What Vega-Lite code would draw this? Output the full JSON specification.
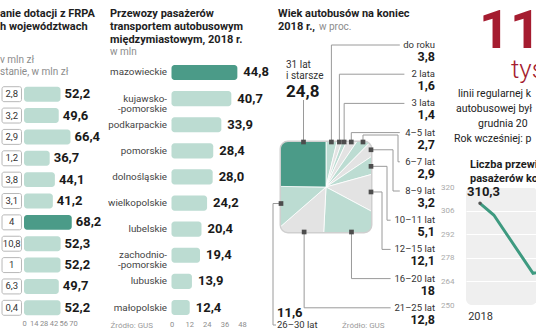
{
  "$schema": "https://vega.github.io/schema/vega-lite/v6.json",
  "padding": 0,
  "background": "white",
  "spacing": 0,
  "config": {
    "view": {"stroke": null},
    "font": "Roboto",
    "locale": {"number": {"decimal": ",", "thousands": "\u00a0", "grouping": [3], "currency": ["", " zł"]}},
    "title": {"anchor": "start", "frame": "group", "font": "Roboto", "fontSize": 11, "fontWeight": "bold", "color": "#1e1e1e", "lineHeight": 13.3, "subtitleFont": "Roboto", "subtitleFontSize": 10, "subtitleColor": "#8c8c8c", "subtitleFontWeight": "normal", "subtitleLineHeight": 12},
    "axis": {"domain": false, "ticks": false, "grid": false, "labelFont": "Roboto", "labelColor": "#8c8c8c", "labelFontSize": 7.5}
  },
  "hconcat": [
    {
      "spacing": 0,
      "bounds": "flush",
      "vconcat": [
        {"width": 108, "height": 85, "data": {"values": [{}]}, "mark": {"type": "point", "opacity": 0}},
        {
          "width": 108,
          "height": 232,
          "title": {"text": ["anie dotacji z FRPA", "h województwach"], "subtitle": ["v mln zł", "stanie, w mln zł"], "offset": 8, "subtitlePadding": 23},
          "data": {"values": [
            {"nr": 1, "mniejsza": 2.8, "kwota": 52.2},
            {"nr": 2, "mniejsza": 3.2, "kwota": 49.6},
            {"nr": 3, "mniejsza": 2.9, "kwota": 66.4},
            {"nr": 4, "mniejsza": 1.2, "kwota": 36.7},
            {"nr": 5, "mniejsza": 3.8, "kwota": 44.1},
            {"nr": 6, "mniejsza": 3.1, "kwota": 41.2},
            {"nr": 7, "mniejsza": 4, "kwota": 68.2},
            {"nr": 8, "mniejsza": 10.8, "kwota": 52.3},
            {"nr": 9, "mniejsza": 1, "kwota": 52.2},
            {"nr": 10, "mniejsza": 6.3, "kwota": 49.7},
            {"nr": 11, "mniejsza": 0.4, "kwota": 52.2}
          ]},
          "encoding": {
            "y": {"field": "nr", "type": "ordinal", "axis": null, "scale": {"paddingInner": 0.3, "paddingOuter": 0.08}}
          },
          "layer": [
            {
              "mark": {"type": "bar", "fill": "white", "stroke": "#b8b8b8", "strokeWidth": 1, "cornerRadius": 2},
              "encoding": {
                "x": {"datum": -31.4, "type": "quantitative", "scale": {"domain": [-34.29, 119.99], "nice": false, "zero": false}, "axis": {"values": [0, 14, 28, 42, 56, 70], "labelPadding": 2, "title": null}},
                "x2": {"datum": -3.6}
              }
            },
            {
              "mark": {"type": "text", "fontSize": 9.5, "color": "#333333"},
              "encoding": {
                "x": {"datum": -17.5, "type": "quantitative", "scale": {"domain": [-34.29, 119.99], "nice": false, "zero": false}, "axis": {"values": [0, 14, 28, 42, 56, 70], "labelPadding": 2, "title": null}},
                "text": {"field": "mniejsza", "type": "quantitative", "format": ".1~f"}
              }
            },
            {
              "mark": {"type": "bar", "cornerRadius": 3},
              "encoding": {
                "x": {"field": "kwota", "type": "quantitative", "scale": {"domain": [-34.29, 119.99], "nice": false, "zero": false}, "axis": {"values": [0, 14, 28, 42, 56, 70], "labelPadding": 2, "title": null}},
                "x2": {"datum": 0},
                "color": {"condition": {"test": "datum.nr == 7", "value": "#4b9b88"}, "value": "#bcdcd2"}
              }
            },
            {
              "mark": {"type": "text", "align": "left", "dx": 4, "fontSize": 13, "fontWeight": "bold", "font": "Liberation Sans Narrow, Roboto", "color": "#1a1a1a"},
              "encoding": {
                "x": {"field": "kwota", "type": "quantitative", "scale": {"domain": [-34.29, 119.99], "nice": false, "zero": false}, "axis": {"values": [0, 14, 28, 42, 56, 70], "labelPadding": 2, "title": null}},
                "text": {"field": "kwota", "type": "quantitative", "format": ".1f"}
              }
            }
          ]
        }
      ]
    },
    {
      "spacing": 0,
      "bounds": "flush",
      "vconcat": [
        {"width": 159.5, "height": 61, "data": {"values": [{}]}, "mark": {"type": "point", "opacity": 0}},
        {
          "width": 159.5,
          "height": 258,
          "title": {"text": ["Przewozy pasażerów", "transportem autobusowym", "międzymiastowym, 2018 r."], "subtitle": "w mln", "offset": 4.5, "subtitlePadding": 1, "dx": 2},
          "data": {"values": [
            {"woj": "mazowieckie", "mln": 44.8},
            {"woj": "kujawsko-pomorskie", "mln": 40.7},
            {"woj": "podkarpackie", "mln": 33.9},
            {"woj": "pomorskie", "mln": 28.4},
            {"woj": "dolnośląskie", "mln": 28.0},
            {"woj": "wielkopolskie", "mln": 24.2},
            {"woj": "lubelskie", "mln": 20.4},
            {"woj": "zachodniopomorskie", "mln": 19.4},
            {"woj": "lubuskie", "mln": 13.9},
            {"woj": "małopolskie", "mln": 12.4}
          ]},
          "transform": [
            {"calculate": "replace(replace(datum.woj, 'kujawsko-', 'kujawsko-\\n-'), 'zachodniopomorskie', 'zachodnio-\\n-pomorskie')", "as": "etykieta"}
          ],
          "encoding": {
            "y": {"field": "woj", "type": "nominal", "sort": null, "axis": null, "scale": {"paddingInner": 0.42, "paddingOuter": 0.15}}
          },
          "layer": [
            {
              "mark": {"type": "bar", "cornerRadius": 3},
              "encoding": {
                "x": {"field": "mln", "type": "quantitative", "scale": {"domain": [-43.2, 65.31], "nice": false, "zero": false}, "axis": {"values": [0, 12, 24, 36, 48], "labelPadding": 1, "title": "Źródło: GUS", "titleX": 2, "titleY": 6, "titleAlign": "left", "titleAnchor": "start", "titleBaseline": "middle", "titleFontSize": 8, "titleFontWeight": "normal", "titleColor": "#9a9a9a", "titleFont": "Roboto", "titleAngle": 0}},
                "x2": {"datum": 0},
                "color": {"condition": {"test": "datum.woj == 'mazowieckie'", "value": "#4b9b88"}, "value": "#bcdcd2"}
              }
            },
            {
              "mark": {"type": "text", "align": "right", "baseline": "middle", "fontSize": 9.8, "color": "#444444", "lineBreak": "\n", "lineHeight": 10},
              "encoding": {
                "x": {"datum": -3.06, "type": "quantitative", "scale": {"domain": [-43.2, 65.31], "nice": false, "zero": false}, "axis": {"values": [0, 12, 24, 36, 48], "labelPadding": 1, "title": "Źródło: GUS", "titleX": 2, "titleY": 6, "titleAlign": "left", "titleAnchor": "start", "titleBaseline": "middle", "titleFontSize": 8, "titleFontWeight": "normal", "titleColor": "#9a9a9a", "titleFont": "Roboto", "titleAngle": 0}},
                "text": {"field": "etykieta"}
              }
            },
            {
              "mark": {"type": "text", "align": "left", "dx": 6, "fontSize": 13, "fontWeight": "bold", "font": "Liberation Sans Narrow, Roboto", "color": "#1a1a1a"},
              "encoding": {
                "x": {"field": "mln", "type": "quantitative", "scale": {"domain": [-43.2, 65.31], "nice": false, "zero": false}, "axis": {"values": [0, 12, 24, 36, 48], "labelPadding": 1, "title": "Źródło: GUS", "titleX": 2, "titleY": 6, "titleAlign": "left", "titleAnchor": "start", "titleBaseline": "middle", "titleFontSize": 8, "titleFontWeight": "normal", "titleColor": "#9a9a9a", "titleFont": "Roboto", "titleAngle": 0}},
                "text": {"field": "mln", "type": "quantitative", "format": ".1f"}
              }
            }
          ]
        }
      ]
    },
    {
      "spacing": 0,
      "bounds": "flush",
      "vconcat": [
        {
          "width": 158.5,
          "height": 142,
          "title": {"text": ["Wiek autobusów na koniec", "2018 r.,"], "offset": -32, "dx": -3},
          "data": {"values": [{}]},
          "mark": {"type": "point", "opacity": 0}
        },
        {
          "width": 90,
          "height": 90,
          "view": {"stroke": "#cfcfcf", "strokeWidth": 3, "cornerRadius": 7},
          "title": {"text": "w proc.", "fontSize": 10, "fontWeight": "normal", "color": "#8c8c8c", "offset": 8, "dx": 38},
          "data": {"values": [
            {"k": "do roku", "v": 3.8, "o": 1},
            {"k": "2 lata", "v": 1.6, "o": 2},
            {"k": "3 lata", "v": 1.4, "o": 3},
            {"k": "4–5 lat", "v": 2.7, "o": 4},
            {"k": "6–7 lat", "v": 2.9, "o": 5},
            {"k": "8–9 lat", "v": 3.2, "o": 6},
            {"k": "10–11 lat", "v": 5.1, "o": 7},
            {"k": "12–15 lat", "v": 12.1, "o": 8},
            {"k": "16–20 lat", "v": 18, "o": 9},
            {"k": "21–25 lat", "v": 12.8, "o": 10},
            {"k": "26–30 lat", "v": 11.6, "o": 11},
            {"k": "31 lat i starsze", "v": 24.8, "o": 12}
          ]},
          "transform": [
            {"window": [{"op": "sum", "field": "v", "as": "cum"}], "sort": [{"field": "o"}]},
            {"calculate": "2*PI*(datum.cum - datum.v/2)/100", "as": "a"},
            {"calculate": "45/max(abs(sin(datum.a)), abs(cos(datum.a)))", "as": "t"},
            {"calculate": "datum.o == 12 ? 22.5 : 45 + datum.t*sin(datum.a)", "as": "mx"},
            {"calculate": "datum.o == 12 ? 0 : 45 - datum.t*cos(datum.a)", "as": "my"},
            {"calculate": "-97 + (datum.o - 1)*29.2", "as": "ny"},
            {"calculate": "151 - length(datum.k)*4.6", "as": "le"},
            {"calculate": "datum.o == 5 ? 117 : datum.o == 6 ? 112 : datum.o == 7 ? 106 : 101", "as": "xe"}
          ],
          "layer": [
            {
              "mark": {"type": "arc", "outerRadius": 70, "clip": true, "stroke": "white", "strokeWidth": 0.8},
              "encoding": {
                "theta": {"field": "v", "type": "quantitative", "stack": true},
                "order": {"field": "o", "type": "quantitative"},
                "color": {"field": "k", "type": "nominal", "legend": null, "scale": {
                  "domain": ["do roku", "2 lata", "3 lata", "4–5 lat", "6–7 lat", "8–9 lat", "10–11 lat", "12–15 lat", "16–20 lat", "21–25 lat", "26–30 lat", "31 lat i starsze"],
                  "range": ["#bcdcd2", "#e3e3e3", "#bcdcd2", "#e3e3e3", "#bcdcd2", "#e3e3e3", "#bcdcd2", "#e3e3e3", "#bcdcd2", "#e3e3e3", "#bcdcd2", "#4b9b88"]}}
              }
            },
            {
              "transform": [
                {"calculate": "datum.o <= 4 || datum.o == 9 || datum.o == 10 ? [{x: datum.mx, y: datum.my, i: 0}, {x: datum.mx, y: datum.ny, i: 1}, {x: datum.le, y: datum.ny, i: 2}] : datum.o == 5 ? [{x: datum.mx, y: datum.my, i: 0}, {x: datum.mx, y: -7, i: 1}, {x: datum.xe, y: -7, i: 2}, {x: datum.xe, y: datum.ny, i: 3}, {x: datum.le, y: datum.ny, i: 4}] : datum.o <= 8 ? [{x: datum.mx, y: datum.my, i: 0}, {x: datum.xe, y: datum.my, i: 1}, {x: datum.xe, y: datum.ny, i: 2}, {x: datum.le, y: datum.ny, i: 3}] : datum.o == 11 ? [{x: datum.mx, y: datum.my, i: 0}, {x: -8, y: datum.my, i: 1}, {x: -8, y: 183, i: 2}, {x: -5, y: 183, i: 3}] : [{x: datum.mx, y: datum.my, i: 0}, {x: datum.mx, y: -42, i: 1}]", "as": "pts"},
                {"flatten": ["pts"], "as": ["p"]},
                {"calculate": "datum.p.x", "as": "px"},
                {"calculate": "datum.p.y", "as": "py"},
                {"calculate": "datum.p.i", "as": "pi"}
              ],
              "mark": {"type": "line", "stroke": "#9a9a9a", "strokeWidth": 1},
              "encoding": {
                "x": {"field": "px", "type": "quantitative", "scale": {"domain": [0, 90], "nice": false, "zero": false}, "axis": null},
                "y": {"field": "py", "type": "quantitative", "scale": {"domain": [0, 90], "nice": false, "zero": false, "reverse": true}, "axis": null},
                "detail": {"field": "k"},
                "order": {"field": "pi", "type": "quantitative"}
              }
            },
            {
              "mark": {"type": "square", "size": 22, "color": "#4d4d4d", "opacity": 1, "filled": true},
              "encoding": {
                "x": {"field": "mx", "type": "quantitative", "scale": {"domain": [0, 90], "nice": false, "zero": false}, "axis": null},
                "y": {"field": "my", "type": "quantitative", "scale": {"domain": [0, 90], "nice": false, "zero": false, "reverse": true}, "axis": null}
              }
            },
            {
              "transform": [{"filter": "datum.o <= 10"}],
              "mark": {"type": "text", "align": "right", "baseline": "middle", "fontSize": 9.5, "color": "#333333"},
              "encoding": {
                "x": {"datum": 154, "type": "quantitative", "scale": {"domain": [0, 90], "nice": false, "zero": false}, "axis": null},
                "y": {"field": "ny", "type": "quantitative", "scale": {"domain": [0, 90], "nice": false, "zero": false, "reverse": true}, "axis": null},
                "text": {"field": "k"}
              }
            },
            {
              "transform": [{"filter": "datum.o <= 10"}],
              "mark": {"type": "text", "align": "right", "baseline": "middle", "dy": 12, "fontSize": 12.5, "fontWeight": "bold", "font": "Liberation Sans Narrow, Roboto", "color": "#1a1a1a"},
              "encoding": {
                "x": {"datum": 154, "type": "quantitative", "scale": {"domain": [0, 90], "nice": false, "zero": false}, "axis": null},
                "y": {"field": "ny", "type": "quantitative", "scale": {"domain": [0, 90], "nice": false, "zero": false, "reverse": true}, "axis": null},
                "text": {"field": "v", "type": "quantitative", "format": ".1~f"}
              }
            },
            {
              "transform": [{"filter": "datum.o == 11"}],
              "mark": {"type": "text", "align": "left", "baseline": "middle", "fontSize": 9.5, "color": "#333333"},
              "encoding": {
                "x": {"datum": -4, "type": "quantitative", "scale": {"domain": [0, 90], "nice": false, "zero": false}, "axis": null},
                "y": {"datum": 183, "type": "quantitative", "scale": {"domain": [0, 90], "nice": false, "zero": false, "reverse": true}, "axis": null},
                "text": {"field": "k"}
              }
            },
            {
              "transform": [{"filter": "datum.o == 11"}],
              "mark": {"type": "text", "align": "left", "baseline": "middle", "fontSize": 13, "fontWeight": "bold", "font": "Liberation Sans Narrow, Roboto", "color": "#1a1a1a"},
              "encoding": {
                "x": {"datum": -4, "type": "quantitative", "scale": {"domain": [0, 90], "nice": false, "zero": false}, "axis": null},
                "y": {"datum": 171, "type": "quantitative", "scale": {"domain": [0, 90], "nice": false, "zero": false, "reverse": true}, "axis": null},
                "text": {"field": "v", "type": "quantitative", "format": ".1~f"}
              }
            },
            {
              "transform": [{"filter": "datum.o == 12"}, {"calculate": "replace(datum.k, 'lat ', 'lat\\n')", "as": "k2"}],
              "mark": {"type": "text", "align": "left", "baseline": "middle", "fontSize": 10, "color": "#333333", "lineBreak": "\n", "lineHeight": 11.5},
              "encoding": {
                "x": {"datum": 5, "type": "quantitative", "scale": {"domain": [0, 90], "nice": false, "zero": false}, "axis": null},
                "y": {"datum": -77.5, "type": "quantitative", "scale": {"domain": [0, 90], "nice": false, "zero": false, "reverse": true}, "axis": null},
                "text": {"field": "k2"}
              }
            },
            {
              "transform": [{"filter": "datum.o == 12"}],
              "mark": {"type": "text", "align": "left", "baseline": "middle", "fontSize": 17, "fontWeight": "bold", "font": "Liberation Sans Narrow, Roboto", "color": "#1a1a1a"},
              "encoding": {
                "x": {"datum": 5, "type": "quantitative", "scale": {"domain": [0, 90], "nice": false, "zero": false}, "axis": null},
                "y": {"datum": -50, "type": "quantitative", "scale": {"domain": [0, 90], "nice": false, "zero": false, "reverse": true}, "axis": null},
                "text": {"field": "v", "type": "quantitative", "format": ".1~f"}
              }
            },
            {
              "transform": [{"filter": "datum.o == 1"}],
              "mark": {"type": "text", "align": "left", "baseline": "middle", "fontSize": 8, "color": "#9a9a9a", "text": "Źródło: GUS"},
              "encoding": {
                "x": {"datum": 61, "type": "quantitative", "scale": {"domain": [0, 90], "nice": false, "zero": false}, "axis": null},
                "y": {"datum": 184, "type": "quantitative", "scale": {"domain": [0, 90], "nice": false, "zero": false, "reverse": true}, "axis": null}
              }
            }
          ]
        }
      ]
    },
    {
      "spacing": 0,
      "bounds": "flush",
      "vconcat": [
        {
          "width": 71,
          "height": 58,
          "title": {"text": "11", "fontSize": 54, "lineHeight": 54, "color": "#a51c30", "offset": -59, "dx": 13},
          "data": {"values": [{}]},
          "mark": {"type": "point", "opacity": 0}
        },
        {
          "width": 71,
          "height": 27,
          "title": {"text": "tys.", "fontSize": 26, "fontWeight": 300, "color": "#a51c30", "offset": -25.2, "dx": 45},
          "data": {"values": [{}]},
          "mark": {"type": "point", "opacity": 0}
        },
        {
          "width": 71,
          "height": 15,
          "title": {"text": "linii regularnej k", "fontSize": 10.5, "fontWeight": "normal", "color": "#222222", "offset": -14, "dx": -8},
          "data": {"values": [{}]},
          "mark": {"type": "point", "opacity": 0}
        },
        {
          "width": 71,
          "height": 15,
          "title": {"text": "autobusowej był", "fontSize": 10.5, "fontWeight": "normal", "color": "#222222", "offset": -14, "dx": -10},
          "data": {"values": [{}]},
          "mark": {"type": "point", "opacity": 0}
        },
        {
          "width": 71,
          "height": 15,
          "title": {"text": "grudnia 20", "fontSize": 10.5, "fontWeight": "normal", "color": "#222222", "offset": -14, "dx": 12},
          "data": {"values": [{}]},
          "mark": {"type": "point", "opacity": 0}
        },
        {
          "width": 71,
          "height": 15,
          "title": {"text": "Rok wcześniej: p", "fontSize": 10.5, "fontWeight": "normal", "color": "#222222", "offset": -14, "dx": -12},
          "data": {"values": [{}]},
          "mark": {"type": "point", "opacity": 0}
        },
        {"width": 71, "height": 42, "data": {"values": [{}]}, "mark": {"type": "point", "opacity": 0}},
        {
          "width": 71,
          "height": 118,
          "view": {"fill": "#efefef", "cornerRadius": 6},
          "title": {"text": ["Liczba przewi", "pasażerów ko"], "lineHeight": 14.5, "offset": -1, "dx": 4},
          "data": {"values": [
            {"rok": 2018, "mln": 310.3},
            {"rok": 2018.26, "mln": 303.4},
            {"rok": 2019, "mln": 268.8},
            {"rok": 2020, "mln": 275}
          ]},
          "encoding": {
            "x": {"field": "rok", "type": "quantitative", "scale": {"domain": [2017.736, 2019.075], "nice": false, "zero": false}, "axis": {"values": [2018], "format": "d", "labelFontSize": 11, "labelColor": "#333333", "labelPadding": 5, "labelFlush": false, "title": null}},
            "y": {"field": "mln", "type": "quantitative", "scale": {"domain": [250, 320], "nice": false, "zero": false}, "axis": {"values": [250, 264, 278, 292, 306, 320], "grid": true, "gridColor": "#ffffff", "gridWidth": 1, "labelPadding": 12, "labelFontSize": 8, "labelColor": "#aaaaaa", "title": null}}
          },
          "layer": [
            {"mark": {"type": "line", "clip": true, "stroke": "#3e9a80", "strokeWidth": 3}},
            {"transform": [{"filter": "datum.rok == 2018"}], "mark": {"type": "point", "filled": true, "color": "#555555", "size": 12, "opacity": 1}},
            {"transform": [{"filter": "datum.rok == 2018"}], "mark": {"type": "text", "align": "left", "dx": -13, "dy": -11, "fontSize": 13, "fontWeight": "bold", "font": "Liberation Sans Narrow, Roboto", "color": "#1a1a1a"}, "encoding": {"text": {"field": "mln", "type": "quantitative", "format": ".1f"}}}
          ]
        }
      ]
    }
  ]
}
